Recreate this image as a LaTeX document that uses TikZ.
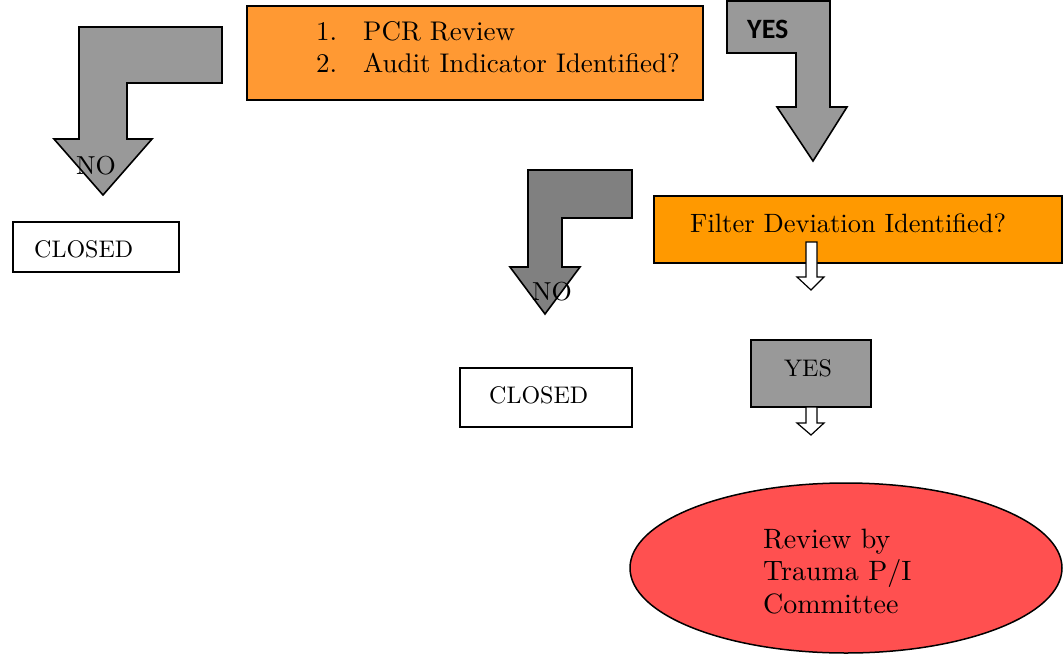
\documentclass[tikz,border=0pt]{standalone}
\usepackage{fontspec}
\setmainfont{lmroman10-regular.otf}[BoldFont=lmroman10-bold.otf]
\newfontfamily\headfont{Carlito}
\usetikzlibrary{shapes.geometric}
\definecolor{lightgrey}{HTML}{999999}
\definecolor{midgrey}{HTML}{808080}
\definecolor{peach}{HTML}{FF9933}
\definecolor{amber}{HTML}{FF9900}
\definecolor{coral}{HTML}{FF5050}
\tikzset{
  outline/.style={draw=black, line width=1.5pt, line join=miter},
  box/.style={outline, rectangle, inner sep=0pt},
  bentarrow/.style={outline, line width=1.6pt},
  smallarrow/.style={outline, fill=white, line width=1.2pt},
  txt/.style={inner sep=0pt, anchor=base west},
}
\newcommand{\sz}[1]{\fontsize{#1}{#1}\selectfont}
\begin{document}
\begin{tikzpicture}[x=1pt,y=-1pt]
\useasboundingbox (0,0) rectangle (1063,654);

% boxes
\node[box, fill=peach, minimum width=456pt, minimum height=94pt] (review) at (475,53) {};
\node[box, fill=white, minimum width=166pt, minimum height=50pt] (closedA) at (96,247) {};
\node[box, fill=white, minimum width=172pt, minimum height=59pt] (closedB) at (546,397.5) {};
\node[box, fill=amber, minimum width=408pt, minimum height=67pt] (filter) at (858,229.5) {};
\node[box, fill=lightgrey, minimum width=120pt, minimum height=67pt] (yesbox) at (811,373.5) {};
\node[outline, ellipse, fill=coral, inner sep=0pt, minimum width=432pt, minimum height=170pt] (committee) at (846,568) {};

% bent block arrows
\draw[bentarrow, fill=lightgrey] (222,27) -- (79,27) -- (79,139) -- (54,139) -- (103,195)
  -- (152,139) -- (127,139) -- (127,83) -- (222,83) -- cycle;
\draw[bentarrow, fill=lightgrey] (727,1) -- (830,1) -- (830,107) -- (847,107) -- (813,161)
  -- (777,107) -- (796,107) -- (796,53) -- (727,53) -- cycle;
\draw[bentarrow, fill=midgrey] (632,170) -- (528,170) -- (528,267) -- (510,267) -- (545,314)
  -- (580,267) -- (562,267) -- (562,218) -- (632,218) -- cycle;

% small hollow arrows
\draw[smallarrow] (806,242) -- (817,242) -- (817,277) -- (824,277) -- (811,290)
  -- (797,277) -- (806,277) -- cycle;
\draw[smallarrow] (806,407) -- (817,407) -- (817,423) -- (824,423) -- (811,435)
  -- (797,423) -- (806,423) -- cycle;

% texts
\node[txt, font=\sz{27}] (n1) at (316,40) {1.};
\node[txt, font=\sz{27}] (t1) at (363,40) {PCR Review};
\node[txt, font=\sz{27}] (n2) at (316,72) {2.};
\node[txt, font=\sz{27}] (t2) at (363,72) {Audit Indicator Identified?};
\node[txt, font=\sz{26}] (noA) at (76,174) {NO};
\node[txt, font=\sz{24}] (clA) at (34,257) {CLOSED};
\node[txt, font=\headfont\bfseries\sz{28}] (yesA) at (747,38) {YES};
\node[txt, font=\sz{26}] (noB) at (532,300) {NO};
\node[txt, font=\sz{24}] (clB) at (489,403) {CLOSED};
\node[txt, font=\sz{26.5}] (filt) at (690,232) {Filter Deviation Identified?};
\node[txt, font=\sz{24}] (yesB) at (784,376) {YES};
\node[txt, font=\sz{28}] (c1) at (763,548) {Review by};
\node[txt, font=\sz{28}] (c2) at (763,580) {Trauma P/I};
\node[txt, font=\sz{28}] (c3) at (763,613) {Committee};
\end{tikzpicture}
\end{document}
